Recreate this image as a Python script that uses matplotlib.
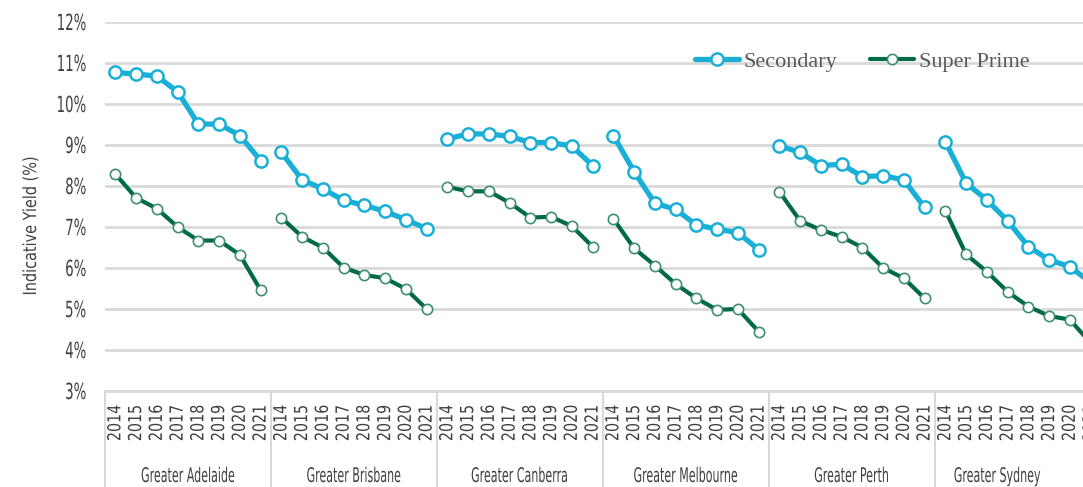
"""Indicative yields by city, Secondary vs Super Prime, 2014-2021."""

import matplotlib
matplotlib.use('Agg')
import matplotlib.pyplot as plt
import matplotlib.transforms as mtransforms
from matplotlib.patheffects import AbstractPathEffect

cities = ['Greater Adelaide', 'Greater Brisbane', 'Greater Canberra',
          'Greater Melbourne', 'Greater Perth', 'Greater Sydney']
years = ['2014', '2015', '2016', '2017', '2018', '2019', '2020', '2021']

secondary = [
    [10.77, 10.73, 10.68, 10.30, 9.51, 9.51, 9.23, 8.62],
    [8.82, 8.15, 7.93, 7.65, 7.53, 7.38, 7.18, 6.96],
    [9.15, 9.27, 9.27, 9.21, 9.06, 9.06, 8.97, 8.50],
    [9.23, 8.35, 7.58, 7.43, 7.05, 6.95, 6.86, 6.45],
    [8.98, 8.82, 8.50, 8.53, 8.23, 8.25, 8.15, 7.48],
    [9.08, 8.07, 7.66, 7.15, 6.52, 6.20, 6.03, 5.65],
]
super_prime = [
    [8.29, 7.71, 7.45, 7.00, 6.67, 6.67, 6.32, 5.46],
    [7.23, 6.76, 6.50, 6.01, 5.83, 5.75, 5.49, 5.00],
    [7.98, 7.87, 7.87, 7.59, 7.23, 7.25, 7.02, 6.52],
    [7.20, 6.48, 6.06, 5.61, 5.26, 4.98, 5.00, 4.45],
    [7.86, 7.15, 6.93, 6.76, 6.50, 6.00, 5.75, 5.26],
    [7.40, 6.33, 5.91, 5.42, 5.06, 4.83, 4.74, 4.17],
]

BLUE = '#19afd7'
GREEN = '#006a48'
GREEN_EDGE = '#3f8f6e'
GRID = '#d9d9d9'
TEXT = '#404040'


class Squeeze(AbstractPathEffect):
    """Draw text narrower along its baseline (no condensed font installed)."""

    def __init__(self, sx, pivot='center'):
        super().__init__()
        self.sx = sx
        self.pivot = pivot

    def draw_path(self, renderer, gc, tpath, affine, rgbFace=None):
        ext = tpath.get_extents()
        px = {'left': 0.0, 'center': (ext.x0 + ext.x1) / 2,
              'right': ext.x1}[self.pivot]
        sq = mtransforms.Affine2D().translate(-px, 0).scale(self.sx, 1).translate(px, 0)
        renderer.draw_path(gc, tpath, sq + affine, rgbFace)


W, H = 1083, 487
fig = plt.figure(figsize=(W / 100, H / 100), dpi=100)
fig.patch.set_facecolor('white')

slot = 20.75
n = len(cities) * len(years)
ax = fig.add_axes([105 / W, (H - 391) / H, n * slot / W, (391 - 22) / H])
ax.set_facecolor('none')

for gi in range(len(cities)):
    xs = [gi * len(years) + k for k in range(len(years))]
    ax.plot(xs, secondary[gi], color=BLUE, lw=3.8, marker='o', ms=8.8,
            mfc='white', mec=BLUE, mew=1.8, solid_capstyle='round',
            label='Secondary' if gi == 0 else None, zorder=3)
    ax.plot(xs, super_prime[gi], color=GREEN, lw=3.0, marker='o', ms=7.4,
            mfc='white', mec=GREEN_EDGE, mew=1.2, solid_capstyle='round',
            label='Super Prime' if gi == 0 else None, zorder=3)

ax.set_xlim(-0.5, n - 0.5)
ax.set_ylim(3, 12)
ax.set_yticks(range(3, 13))
ax.set_yticklabels([f'{v}%' for v in range(3, 13)], color=TEXT, fontsize=16)
ax.set_xticks(range(n))
ax.set_xticklabels(years * len(cities), rotation=90, color=TEXT, fontsize=13)
for lbl in ax.get_yticklabels():
    lbl.set_path_effects([Squeeze(0.6, 'right')])
for lbl in ax.get_xticklabels():
    lbl.set_path_effects([Squeeze(0.79, 'right')])
ax.tick_params(axis='both', length=0)
ax.tick_params(axis='y', pad=13)
ax.tick_params(axis='x', pad=10)
ax.grid(axis='y', color=GRID, lw=2)
ax.set_axisbelow(True)
for side in ['left', 'right', 'top']:
    ax.spines[side].set_visible(False)
ax.spines['bottom'].set_color(GRID)
ax.spines['bottom'].set_linewidth(2)

# group separators and city labels under the year labels
trans = mtransforms.blended_transform_factory(ax.transData, ax.transAxes)
for gi in range(len(cities) + 1):
    x0 = gi * len(years) - 0.5
    ax.plot([x0, x0], [0, -0.27], color=GRID, lw=1.5, transform=trans,
            clip_on=False)
for gi, city in enumerate(cities):
    xc = gi * len(years) + (len(years) - 1) / 2
    if gi == len(cities) - 1:
        xc -= 1.0  # Sydney label sits in the visible part of its group
    t = ax.text(xc, (391 - 482) / 369, city, transform=trans, ha='center',
                va='baseline', fontsize=14.5, color=TEXT)
    t.set_path_effects([Squeeze(0.55, 'center')])

yl = fig.text(31 / W, 1 - 226 / H, 'Indicative Yield (%)', rotation=90,
              ha='center', va='center', fontsize=13, color=TEXT)
yl.set_path_effects([Squeeze(0.8, 'center')])

ax.legend(ncol=2, loc='center left', frameon=False,
          bbox_to_anchor=(695 / W, 1 - 62 / H), bbox_transform=fig.transFigure,
          borderpad=0, borderaxespad=0,
          handlelength=2.0, handletextpad=0.2, columnspacing=1.45,
          prop={'family': 'Liberation Serif', 'size': 16},
          labelcolor='#595959')

fig.savefig('out.png', dpi=100)
